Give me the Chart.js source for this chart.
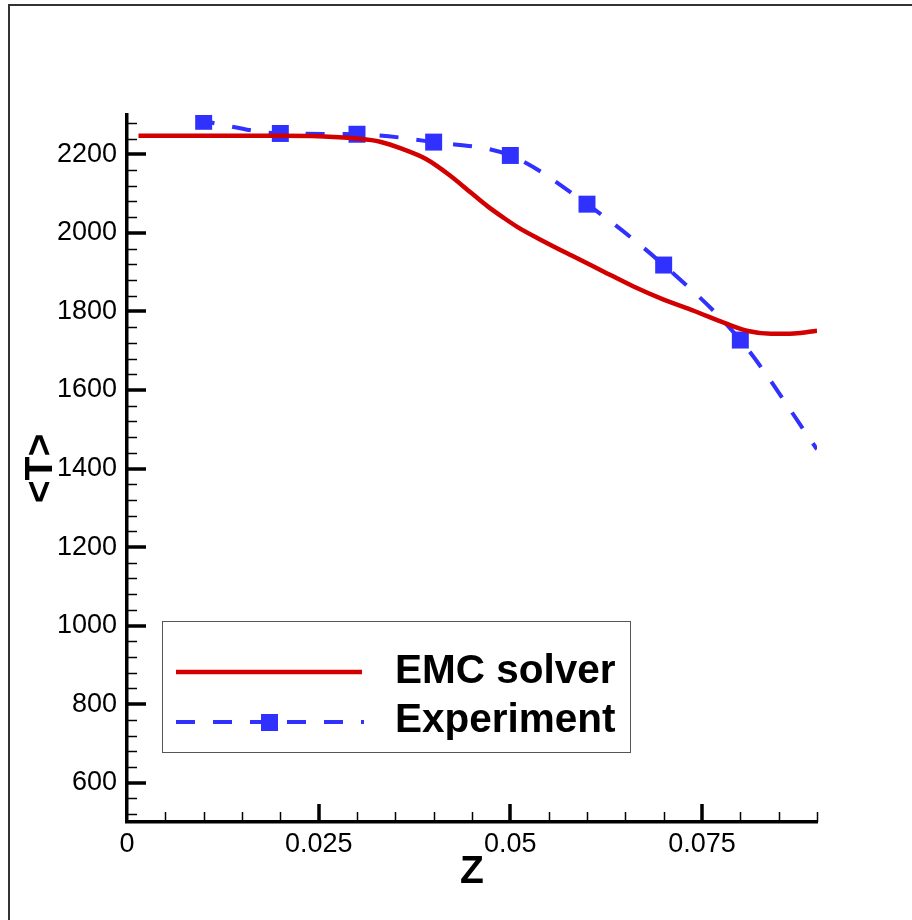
<!DOCTYPE html>
<html>
<head>
<meta charset="utf-8">
<script src="https://cdn.jsdelivr.net/npm/chart.js@4.4.0/dist/chart.umd.min.js"></script>
<style>
  body { margin: 0; background: #fff; }
  #wrap { width: 912px; height: 920px; position: relative; }
</style>
</head>
<body>
<div id="wrap"><canvas id="myChart"></canvas></div>
<script>
// EMC solver curve (z, <T>)
var emcZ = [0.0015, 0.005, 0.01, 0.015, 0.02, 0.025, 0.03, 0.033, 0.036, 0.039, 0.042, 0.045, 0.047, 0.049, 0.051, 0.054, 0.058, 0.062, 0.066, 0.07, 0.074, 0.078, 0.081, 0.084, 0.087, 0.09];
var emcT = [2247, 2247, 2247, 2247, 2247, 2246, 2240, 2232, 2213, 2188, 2148, 2100, 2068, 2040, 2014, 1982, 1942, 1903, 1864, 1830, 1801, 1770, 1750, 1743, 1744, 1751];

// experiment points
var expZ = [0.01, 0.02, 0.03, 0.04, 0.05, 0.06, 0.07, 0.08, 0.09];
var expT = [2284, 2253, 2251, 2231, 2197, 2073, 1918, 1727, 1449];

var xTicks = [0, 0.025, 0.05, 0.075];
var yTicks = [600, 800, 1000, 1200, 1400, 1600, 1800, 2000, 2200];

var red = '#d20000';
var blue = '#3030ff';
var fontFam = '"Liberation Sans", Arial, sans-serif';

function pts(xs, ys){
  return xs.map(function(x, i){ return {x: x, y: ys[i]}; });
}

// inward major / minor ticks like the original plot
var tickMarks = {
  id: 'tickMarks',
  afterDraw: function(chart){
    var ctx = chart.ctx, a = chart.chartArea;
    var xs = chart.scales.x, ys = chart.scales.y;
    ctx.save();
    ctx.strokeStyle = '#000';
    // x minor
    ctx.lineWidth = 1.5;
    for (var k = 0; k <= 18; k++) {
      if (k % 5 === 0) continue;
      var px = Math.round(xs.getPixelForValue(k * 0.005)) + 0.5;
      ctx.beginPath(); ctx.moveTo(px, a.bottom); ctx.lineTo(px, a.bottom - 10); ctx.stroke();
    }
    // y minor
    for (var t = 520; t <= 2300; t += 40) {
      if ((t - 600) % 200 === 0) continue;
      var py = Math.round(ys.getPixelForValue(t)) + 0.5;
      ctx.beginPath(); ctx.moveTo(a.left, py); ctx.lineTo(a.left + 10, py); ctx.stroke();
    }
    // majors
    ctx.lineWidth = 3.5;
    xTicks.forEach(function(v){
      if (v === 0) return;
      var px = Math.round(xs.getPixelForValue(v));
      ctx.beginPath(); ctx.moveTo(px, a.bottom); ctx.lineTo(px, a.bottom - 18); ctx.stroke();
    });
    yTicks.forEach(function(v){
      var py = Math.round(ys.getPixelForValue(v));
      ctx.beginPath(); ctx.moveTo(a.left, py); ctx.lineTo(a.left + 19, py); ctx.stroke();
    });
    ctx.restore();
  }
};

// outer frame + legend box inside the plot
var frameLegend = {
  id: 'frameLegend',
  afterDraw: function(chart){
    var ctx = chart.ctx;
    ctx.save();
    ctx.strokeStyle = '#333';
    ctx.lineWidth = 2;
    ctx.beginPath(); ctx.moveTo(9, 920); ctx.lineTo(9, 5); ctx.lineTo(912, 5); ctx.stroke();

    // legend
    ctx.strokeStyle = '#555';
    ctx.lineWidth = 1;
    ctx.strokeRect(162.5, 621.5, 468, 131);

    var ds = chart.data.datasets;
    ctx.strokeStyle = ds[0].borderColor;
    ctx.lineWidth = 4.5;
    ctx.beginPath(); ctx.moveTo(176, 672); ctx.lineTo(362, 672); ctx.stroke();

    ctx.strokeStyle = ds[1].borderColor;
    ctx.lineWidth = 4;
    ctx.setLineDash([19, 18]);
    ctx.beginPath(); ctx.moveTo(176, 722); ctx.lineTo(364, 722); ctx.stroke();
    ctx.setLineDash([]);
    ctx.fillStyle = ds[1].borderColor;
    ctx.fillRect(261, 714, 17, 17);

    ctx.fillStyle = '#000';
    ctx.font = 'bold 40.5px ' + fontFam;
    ctx.textBaseline = 'middle';
    ctx.textAlign = 'left';
    ctx.fillText(ds[0].label, 395, 672);
    ctx.fillText(ds[1].label, 395, 721);
    ctx.restore();
  }
};

var ctx = document.getElementById('myChart').getContext('2d');
window.myChart = new Chart(ctx, {
  type: 'line',
  data: {
    datasets: [{
      label: 'EMC solver',
      data: pts(emcZ, emcT),
      borderColor: red,
      borderWidth: 4.5,
      pointRadius: 0,
      cubicInterpolationMode: 'monotone',
      fill: false
    }, {
      label: 'Experiment',
      data: pts(expZ, expT),
      borderColor: blue,
      backgroundColor: blue,
      borderWidth: 4,
      borderDash: [19, 18],
      borderDashOffset: 8,
      pointStyle: 'rect',
      pointRadius: expZ.map(function(z, i){ return i < expZ.length - 1 ? 12 : 0; }),
      pointBorderWidth: 0,
      cubicInterpolationMode: 'monotone',
      fill: false
    }]
  },
  options: {
    responsive: true,
    maintainAspectRatio: false,
    animation: false,
    layout: { padding: { top: 115, right: 95, left: 0, bottom: 0 } },
    plugins: { legend: { display: false }, tooltip: { enabled: false } },
    scales: {
      x: {
        type: 'linear',
        min: 0, max: 0.09,
        afterFit: function(s){ s.height = 98; },
        afterBuildTicks: function(s){ s.ticks = xTicks.map(function(v){ return {value: v}; }); },
        grid: { display: false, drawTicks: false, tickLength: 0 },
        border: { display: true, color: '#000', width: 3.5 },
        ticks: {
          color: '#000',
          padding: 6,
          maxRotation: 0,
          font: { family: fontFam, size: 27 },
          callback: function(v){ return String(v); }
        },
        title: {
          display: true, text: 'Z', color: '#000',
          font: { family: fontFam, size: 39, weight: 'bold' },
          padding: { top: 0, bottom: 24 }
        }
      },
      y: {
        min: 500, max: 2300,
        afterFit: function(s){ s.width = 127; },
        afterBuildTicks: function(s){ s.ticks = yTicks.map(function(v){ return {value: v}; }); },
        grid: { display: false, drawTicks: false, tickLength: 0 },
        border: { display: true, color: '#000', width: 3.5 },
        ticks: {
          color: '#000',
          padding: 10,
          font: { family: fontFam, size: 27 },
          callback: function(v){ return String(v); }
        },
        title: {
          display: true, text: '<T>', color: '#000',
          font: { family: fontFam, size: 39, weight: 'bold' },
          padding: { top: 18, bottom: 0 }
        }
      }
    }
  },
  plugins: [tickMarks, frameLegend]
});
</script>
</body>
</html>
